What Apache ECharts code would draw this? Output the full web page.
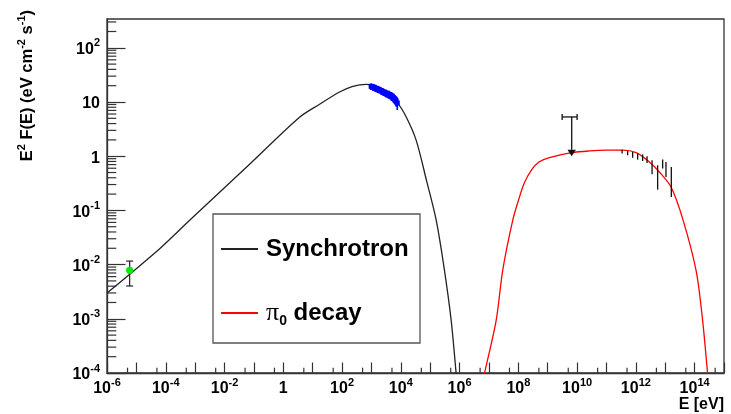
<!DOCTYPE html>
<html>
<head>
<meta charset="utf-8">
<script src="https://cdn.jsdelivr.net/npm/echarts@6/dist/echarts.min.js"></script>
<style>
  html, body { margin: 0; padding: 0; background: #fff; }
  #chart { width: 731px; height: 414px; }
</style>
</head>
<body>
<div id="chart"></div>
<script>
// ---- Spectral energy distribution: E (eV) vs E^2 F(E) (eV cm^-2 s^-1) ----

// Synchrotron model curve
const synE = [1e-6, 6.21e-5, 6.5e-4, 0.0714, 3.58, 17.2, 82.2, 233, 665, 1000, 2512, 7907, 15280, 33420, 74820, 1.60e5, 3.06e5, 5.18e5, 7.66e5, 8.91e5];
const synF = [2.99e-3, 0.0197, 0.0656, 0.710, 5.22, 9.08, 15.3, 19.5, 21.2, 20.4, 15.1, 9.33, 5.28, 1.96, 0.357, 0.0661, 7.85e-3, 9.33e-4, 9.77e-5, 4.1e-5];

// Neutral pion decay model curve
const pionE = [5.62e6, 7.03e6, 1.76e7, 2.94e7, 6.46e7, 1.0e8, 1.58e8, 2.82e8, 5.01e8, 1.14e9, 6.55e9, 2.62e10, 9.68e10, 3.56e11, 1.02e12, 2.88e12, 6.30e12, 1.57e13, 3.91e13, 1.12e14, 1.87e14, 2.77e14, 3.16e14];
const pionF = [5.6e-5, 9.77e-5, 9.38e-4, 7.85e-3, 0.0661, 0.151, 0.316, 0.562, 0.782, 0.942, 1.16, 1.25, 1.29, 1.29, 1.16, 0.782, 0.512, 0.270, 0.0706, 7.85e-3, 9.38e-4, 9.77e-5, 4.5e-5];

// X-ray spectrum points (blue) with relative errors
const xrayE = [977, 1047, 1122, 1202, 1288, 1380, 1479, 1585, 1698, 1820, 1950, 2089, 2239, 2399, 2570, 2754, 2951, 3162, 3388, 3631, 3890, 4169, 4467, 4786, 5129, 5495, 5888, 6310, 6918, 7586];
const xrayF = [19.5, 19.0, 18.6, 18.8, 18.0, 17.6, 17.9, 17.0, 16.8, 17.1, 16.3, 16.0, 16.2, 15.4, 15.0, 15.3, 14.5, 14.2, 14.6, 13.8, 13.4, 13.7, 13.0, 12.6, 12.9, 12.0, 11.6, 11.2, 10.5, 9.6];
const xrayErr = [0.14, 0.12, 0.13, 0.14, 0.12, 0.13, 0.14, 0.12, 0.13, 0.14, 0.12, 0.14, 0.13, 0.14, 0.14, 0.13, 0.14, 0.15, 0.13, 0.15, 0.14, 0.16, 0.15, 0.17, 0.16, 0.18, 0.19, 0.20, 0.22, 0.26];

// Radio point (green) with error range
const radioE = [5.9e-6];
const radioF = [7.85e-3];
const radioLo = [4.03e-3];
const radioHi = [0.0116];

// GeV-TeV points (black vertical error bars)
const gammaE = [3.40e11, 5.26e11, 7.78e11, 1.15e12, 1.70e12, 2.40e12, 3.56e12, 5.51e12, 8.17e12, 1.06e13, 1.61e13];
const gammaLo = [1.12, 1.04, 0.94, 0.865, 0.815, 0.75, 0.463, 0.242, 0.59, 0.413, 0.177];
const gammaHi = [1.32, 1.25, 1.20, 1.12, 1.08, 0.995, 0.84, 0.68, 0.865, 0.78, 0.632];

// Upper limit (point with energy range and downward arrow)
const limE = [6.55e9];
const limELo = [3.1e9];
const limEHi = [1.0e10];
const limF = [5.3];
const limArrowTip = [1.0];

// Axis ranges and labelled decades
const xMin = 1e-6, xMax = 1e15;
const yMin = 1e-4, yMax = 340;
const xLabelExps = [-6, -4, -2, 0, 2, 4, 6, 8, 10, 12, 14];
const yLabelExps = [-4, -3, -2, -1, 0, 1, 2];
const xMinorMult = [5];
const yMinorMult = [2, 3, 4, 5, 6, 7, 8, 9];

const FONT = 'Liberation Sans';
const AXIS_COLOR = '#333';

function powerLabel(exp) {
  if (exp === 0) return '{b|1}';
  if (exp === 1) return '{b|10}';
  return '{b|10}{s|' + exp + '}';
}
function labelFor(v, list) {
  const e = Math.log10(v);
  const r = Math.round(e);
  if (Math.abs(e - r) > 1e-6 || list.indexOf(r) < 0) return '';
  return powerLabel(r);
}
const labelRich = {
  b: { fontFamily: FONT, fontWeight: 'bold', fontSize: 16, color: '#000', lineHeight: 20, verticalAlign: 'bottom' },
  s: { fontFamily: FONT, fontWeight: 'bold', fontSize: 11, color: '#000', lineHeight: 11, verticalAlign: 'top' }
};

// minor tick positions along both axes
const xMinorData = [];
for (let n = -6; n < 15; n++) xMinorMult.forEach(m => { const v = m * Math.pow(10, n); if (v < xMax) xMinorData.push([v, yMin]); });
const yMinorData = [];
for (let n = -4; n < 3; n++) yMinorMult.forEach(m => { const v = m * Math.pow(10, n); if (v < yMax) yMinorData.push([xMin, v]); });

const chart = echarts.init(document.getElementById('chart'), null, { renderer: 'canvas' });

const option = {
  animation: false,
  backgroundColor: '#fff',
  grid: { left: 107, right: 7, top: 19, bottom: 41, show: true, borderColor: AXIS_COLOR, borderWidth: 1.3, backgroundColor: 'transparent' },
  xAxis: {
    type: 'log', min: xMin, max: xMax, interval: 1,
    axisLine: { onZero: false, lineStyle: { color: AXIS_COLOR, width: 1.3 } },
    axisTick: { inside: true, length: 10.5, lineStyle: { color: AXIS_COLOR, width: 1.2 } },
    splitLine: { show: false },
    axisLabel: { interval: 0, margin: 4, formatter: v => labelFor(v, xLabelExps), rich: labelRich, hideOverlap: false }
  },
  yAxis: {
    type: 'log', min: yMin, max: yMax, interval: 1,
    axisLine: { onZero: false, lineStyle: { color: AXIS_COLOR, width: 1.3 } },
    axisTick: { inside: true, length: 18.5, lineStyle: { color: AXIS_COLOR, width: 1.2 } },
    splitLine: { show: false },
    axisLabel: { interval: 0, margin: 7, formatter: v => labelFor(v, yLabelExps), rich: labelRich, showMaxLabel: false }
  },
  legend: {
    orient: 'vertical', left: 221, top: 237, padding: 0,
    itemWidth: 37, itemHeight: 2, itemGap: 39, icon: 'rect',
    selectedMode: false,
    data: ['Synchrotron', 'π0 decay'],
    formatter: name => name === 'Synchrotron' ? '{t|Synchrotron}' : '{p|π}{s|0}{d| decay}',
    textStyle: {
      rich: {
        t: { fontFamily: FONT, fontWeight: 'bold', fontSize: 24, color: '#000', lineHeight: 30, padding: [0, 0, 0, 3] },
        p: { fontFamily: 'Liberation Serif', fontSize: 26, color: '#000', lineHeight: 30, padding: [0, 0, 0, 3] },
        s: { fontFamily: FONT, fontWeight: 'bold', fontSize: 14, color: '#000', lineHeight: 30, verticalAlign: 'bottom' },
        d: { fontFamily: FONT, fontWeight: 'bold', fontSize: 24, color: '#000', lineHeight: 30 }
      }
    }
  },
  graphic: [
    { type: 'rect', z: 3, shape: { x: 213, y: 214, width: 207, height: 129 }, style: { fill: '#fff', stroke: '#555', lineWidth: 1.3 } },
    {
      type: 'text', x: 26, y: 10, rotation: Math.PI / 2, z: 5,
      style: {
        text: '{b|E}{s|2}{b| F(E) (eV cm}{s|-2}{b| s}{s|-1}{b|)}',
        align: 'right', verticalAlign: 'middle',
        rich: {
          b: { fontFamily: FONT, fontWeight: 'bold', fontSize: 16.5, fill: '#000', lineHeight: 20, verticalAlign: 'bottom' },
          s: { fontFamily: FONT, fontWeight: 'bold', fontSize: 11, fill: '#000', lineHeight: 11, verticalAlign: 'top' }
        }
      }
    },
    {
      type: 'text', x: 724, y: 405, z: 5,
      style: { text: 'E [eV]', fontFamily: FONT, fontWeight: 'bold', fontSize: 16, fill: '#000', align: 'right', verticalAlign: 'middle' }
    }
  ],
  series: [
    {
      name: 'Synchrotron', type: 'line', symbol: 'none', smooth: 0.3, color: '#222',
      lineStyle: { color: '#222', width: 1.3 },
      data: synE.map((e, i) => [e, synF[i]])
    },
    {
      name: 'π0 decay', type: 'line', symbol: 'none', smooth: 0.3, color: '#ff0000',
      lineStyle: { color: '#ff0000', width: 1.3 },
      data: pionE.map((e, i) => [e, pionF[i]])
    },
    {
      // X-ray points with vertical error bars
      type: 'custom', z: 4,
      data: xrayE.map((e, i) => [e, xrayF[i], xrayF[i] * (1 - xrayErr[i]), xrayF[i] * (1 + xrayErr[i])]),
      renderItem: (params, api) => {
        const c = api.coord([api.value(0), api.value(1)]);
        const lo = api.coord([api.value(0), api.value(2)]);
        const hi = api.coord([api.value(0), api.value(3)]);
        return { type: 'group', children: [
          { type: 'line', shape: { x1: c[0], y1: lo[1], x2: c[0], y2: hi[1] }, style: { stroke: '#0000ff', lineWidth: 1.6 } },
          { type: 'rect', shape: { x: c[0] - 2.5, y: c[1] - 2.5, width: 5, height: 5 }, style: { fill: '#0000ff' } }
        ] };
      }
    },
    {
      // radio point with capped error bar
      type: 'custom', z: 4,
      data: radioE.map((e, i) => [e, radioF[i], radioLo[i], radioHi[i]]),
      renderItem: (params, api) => {
        const c = api.coord([api.value(0), api.value(1)]);
        const lo = api.coord([api.value(0), api.value(2)]);
        const hi = api.coord([api.value(0), api.value(3)]);
        const st = { stroke: '#222', lineWidth: 1.2 };
        return { type: 'group', children: [
          { type: 'line', shape: { x1: c[0], y1: lo[1], x2: c[0], y2: hi[1] }, style: st },
          { type: 'line', shape: { x1: c[0] - 3.5, y1: lo[1], x2: c[0] + 3.5, y2: lo[1] }, style: st },
          { type: 'line', shape: { x1: c[0] - 3.5, y1: hi[1], x2: c[0] + 3.5, y2: hi[1] }, style: st },
          { type: 'circle', shape: { cx: c[0], cy: c[1], r: 3.6 }, style: { fill: '#00ee00' } }
        ] };
      }
    },
    {
      // GeV-TeV vertical error bars
      type: 'custom', z: 4,
      data: gammaE.map((e, i) => [e, gammaLo[i], gammaHi[i]]),
      renderItem: (params, api) => {
        const lo = api.coord([api.value(0), api.value(1)]);
        const hi = api.coord([api.value(0), api.value(2)]);
        return { type: 'line', shape: { x1: lo[0], y1: lo[1], x2: hi[0], y2: hi[1] }, style: { stroke: '#111', lineWidth: 1.3 } };
      }
    },
    {
      // upper limit with energy range and arrow
      type: 'custom', z: 4,
      data: limE.map((e, i) => [e, limF[i], limELo[i], limEHi[i], limArrowTip[i]]),
      renderItem: (params, api) => {
        const c = api.coord([api.value(0), api.value(1)]);
        const l = api.coord([api.value(2), api.value(1)]);
        const r = api.coord([api.value(3), api.value(1)]);
        const tip = api.coord([api.value(0), api.value(4)]);
        const st = { stroke: '#111', lineWidth: 1.3 };
        const headH = 6.5, headW = 4.2;
        return { type: 'group', children: [
          { type: 'line', shape: { x1: l[0], y1: c[1], x2: r[0], y2: c[1] }, style: st },
          { type: 'line', shape: { x1: l[0], y1: c[1] - 3, x2: l[0], y2: c[1] + 3 }, style: st },
          { type: 'line', shape: { x1: r[0], y1: c[1] - 3, x2: r[0], y2: c[1] + 3 }, style: st },
          { type: 'line', shape: { x1: c[0], y1: c[1], x2: c[0], y2: tip[1] - headH }, style: st },
          { type: 'polygon', shape: { points: [[c[0] - headW, tip[1] - headH], [c[0] + headW, tip[1] - headH], [c[0], tip[1]]] }, style: { fill: '#111' } }
        ] };
      }
    },
    {
      // minor ticks on the energy axis
      type: 'custom', z: 3, silent: true,
      data: xMinorData,
      renderItem: (params, api) => {
        const p = api.coord([api.value(0), api.value(1)]);
        return { type: 'line', shape: { x1: p[0], y1: p[1], x2: p[0], y2: p[1] - 5.3 }, style: { stroke: AXIS_COLOR, lineWidth: 1.2 } };
      }
    },
    {
      // minor ticks on the flux axis
      type: 'custom', z: 3, silent: true,
      data: yMinorData,
      renderItem: (params, api) => {
        const p = api.coord([api.value(0), api.value(1)]);
        return { type: 'line', shape: { x1: p[0], y1: p[1], x2: p[0] + 9.3, y2: p[1] }, style: { stroke: AXIS_COLOR, lineWidth: 1.2 } };
      }
    }
  ]
};

chart.setOption(option);
</script>
</body>
</html>
